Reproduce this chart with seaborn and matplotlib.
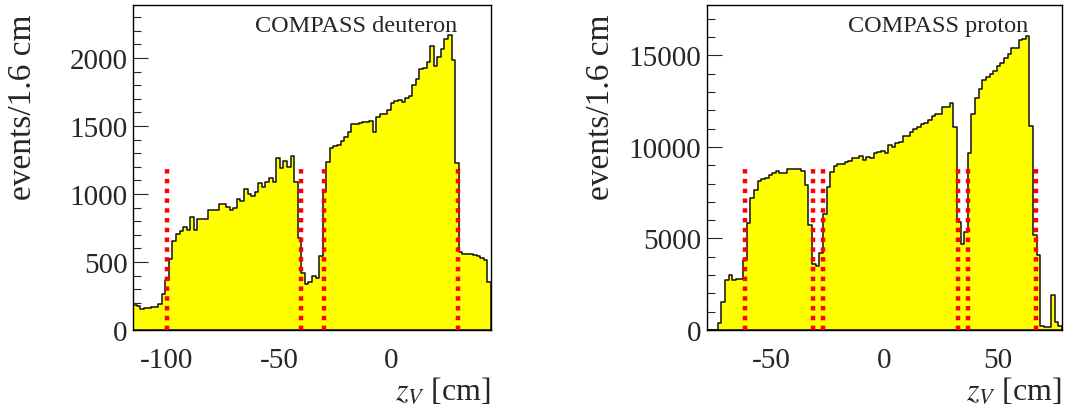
import numpy as np
import pandas as pd
import matplotlib
matplotlib.use("Agg")
import matplotlib.pyplot as plt
import seaborn as sns

# ---------------- data ----------------
# deuteron: 100 bins of 1.6 cm starting at -115.2 cm
deut_start = -115.2
deut_counts = [
    184, 178, 155, 165, 165, 167, 168, 190, 265, 367,
    520, 652, 703, 725, 760, 733, 828, 737, 816, 816,
    813, 880, 884, 880, 929, 926, 904, 884, 900, 963,
    950, 1034, 1000, 987, 1012, 1078, 1048, 1090, 1120, 1090,
    1262, 1188, 1245, 1196, 1276, 1090, 674, 419, 338, 350,
    400, 380, 541, 1012, 1237, 1335, 1355, 1362, 1392, 1416,
    1458, 1516, 1516, 1521, 1526, 1526, 1536, 1458, 1565, 1587,
    1587, 1617, 1670, 1683, 1695, 1678, 1708, 1720, 1801, 1843,
    1916, 1929, 1968, 2088, 1938, 2009, 2070, 2143, 2168, 1985,
    1225, 571, 560, 560, 562, 555, 545, 530, 515, 350,
]
deut_cuts = [-100, -40, -30, 30]
deut_cut_height = 1190

# proton: 98 bins of 1.6 cm starting at -78.4 cm
prot_start = -78.4
prot_counts = [
    0, 0, 0, 380, 1510, 2727, 3030, 2727, 2780, 2780,
    3850, 5870, 7236, 7654, 8145, 8236, 8290, 8454, 8600, 8690,
    8563, 8600, 8781, 8781, 8800, 8818, 8700, 7908, 5760, 3620,
    3510, 4200, 6350, 7800, 8636, 8963, 9054, 9054, 9200, 9236,
    9381, 9418, 9509, 9290, 9472, 9418, 9690, 9727, 9781, 9690,
    10090, 10000, 10236, 10272, 10600, 10600, 10818, 10963, 11090, 11236,
    11327, 11454, 11690, 11781, 11818, 12181, 12200, 12418, 11090, 5872,
    4690, 5327, 9654, 11781, 12690, 13145, 13636, 13818, 14000, 14145,
    14418, 14563, 14872, 15054, 15418, 15418, 15818, 15909, 16054, 11145,
    5181, 4090, 236, 145, 145, 1909, 455, 236,
]
prot_cuts = [-61.5, -31.5, -27.0, 32.5, 37.0, 67.0]
prot_cut_height = 8800

bin_width = 1.6
titles = ["COMPASS deuteron", "COMPASS proton"]
ylabel = "events/1.6 cm"
xlabel = r"$z_{V}$ [cm]"
xticks_d = [-100, -50, 0]
xticks_p = [-50, 0, 50]

# ---------------- style ----------------
sns.set_style("ticks")
plt.rcParams["font.family"] = ["Liberation Serif", "DejaVu Serif"]
plt.rcParams["mathtext.fontset"] = "stix"

fig = plt.figure(figsize=(10.65, 4.10), dpi=100)
W, H = 1065, 410
ax1 = fig.add_axes([133 / W, (H - 331) / H, 358 / W, 325 / H])
ax2 = fig.add_axes([707 / W, (H - 331) / H, 355 / W, 325 / H])


def draw(ax, start, counts, cuts, cut_h, title, ymax, xticks, ymajor, yminor,
         lab_x):
    counts = np.asarray(counts, dtype=float)
    n = len(counts)
    edges = start + bin_width * np.arange(n + 1)
    centers = 0.5 * (edges[:-1] + edges[1:])
    df = pd.DataFrame({"z": centers, "w": counts})
    sns.histplot(data=df, x="z", weights="w", bins=[float(e) for e in edges],
                 element="step", fill=True, color="#ffff00", alpha=1.0,
                 edgecolor="#111111", linewidth=1.1, ax=ax, zorder=2)
    ax.vlines(cuts, 0, cut_h, colors="#ff0000", linewidth=3.2,
              linestyles=(0, (1.0, 1.2)), zorder=3)
    ax.set_xlim(edges[0], edges[-1])
    ax.set_ylim(0, ymax)
    ax.set_xticks(xticks)
    ax.set_xticks(np.arange(np.ceil(edges[0] / 10) * 10, edges[-1], 10),
                  minor=True)
    ax.set_yticks(np.arange(0, ymax, ymajor))
    ax.set_yticks(np.arange(0, ymax, yminor), minor=True)
    ax.set_yticklabels([str(int(v)) for v in np.arange(0, ymax, ymajor)])
    ax.set_xticklabels([str(v) for v in xticks])
    for s in ax.spines.values():
        s.set_visible(True)
        s.set_color("black")
        s.set_linewidth(1.0)
    ax.tick_params(axis="y", which="major", direction="in", length=10.5,
                   width=0.8, labelsize=21, pad=4, right=False)
    ax.tick_params(axis="y", which="minor", direction="in", length=5.5,
                   width=0.8, right=False)
    ax.tick_params(axis="x", which="major", direction="in", length=5.5,
                   width=0.8, labelsize=21, pad=12, top=False)
    ax.tick_params(axis="x", which="minor", direction="in", length=3,
                   width=0.8, top=False)
    ax.set_ylabel(ylabel, fontsize=24, loc="top")
    ax.yaxis.set_label_coords(lab_x, 0.975)
    ax.set_xlabel(xlabel, fontsize=23, loc="right", labelpad=2)
    ax.text(0.905, 0.97, title,
            transform=ax.transAxes, ha="right", va="top", fontsize=17.5)
    ax.grid(False)


draw(ax1, deut_start, deut_counts, deut_cuts, deut_cut_height, titles[0],
     2390, xticks_d, 500, 100, -0.265)
draw(ax2, prot_start, prot_counts, prot_cuts, prot_cut_height, titles[1],
     17750, xticks_p, 5000, 1000, -0.255)

fig.savefig("out.png", dpi=100)
